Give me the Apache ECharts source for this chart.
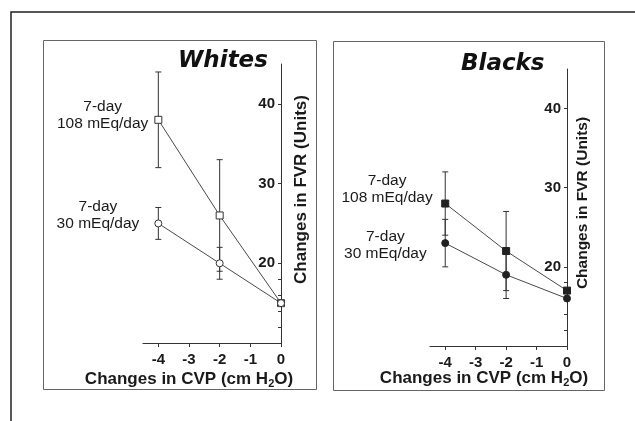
<!DOCTYPE html>
<html><head><meta charset="utf-8">
<script src="https://cdn.jsdelivr.net/npm/echarts@6/dist/echarts.min.js"></script>
<style>html,body{margin:0;padding:0;background:#fff}#c{width:635px;height:421px}</style>
</head><body><div id="c"></div>
<script>
// ---- data ----
const cvp = [-4, -2, 0];
const whites108 = [38, 26, 15];
const whites108Err = [6, 7, 0];
const whites30 = [25, 20, 15];
const whites30Err = [2, 2, 0];
const blacks108 = [28, 22, 17];
const blacks108Err = [4, 5, 0];
const blacks30 = [23, 19, 16];
const blacks30Err = [3, 3, 0];
const xTicks = [-4, -3, -2, -1, 0];
const yLabelTicks = [20, 30, 40];
const yMinorTicks = [12, 14, 16, 18];
const panelTitles = ['Whites', 'Blacks'];
const seriesLabels = ['7-day\n108 mEq/day', '7-day\n30 mEq/day'];
const xName = 'Changes in CVP (cm H{sub|2}O)';
const yName = 'Changes in FVR (Units)';

const INK = '#1a1a1a';
const LINE = '#4a4a4a';
const SANS = "'Liberation Sans', Arial, sans-serif";

function richLabel(text) {
  return text.split('\n').map(s => '{a|' + s + '}').join('\n');
}

function lineSeries(vals, g, symbol, filled, text, dist, dy) {
  return {
    type: 'line', xAxisIndex: g, yAxisIndex: g, z: 3,
    symbol: symbol, symbolSize: 7,
    lineStyle: { color: LINE, width: 1 },
    itemStyle: filled ? { color: '#222', borderColor: '#222', borderWidth: 1 }
                      : { color: '#fff', borderColor: '#333', borderWidth: 1 },
    emphasis: { disabled: true },
    data: cvp.map((x, i) => i === 0 ? {
      value: [x, vals[i]],
      label: {
        show: true, position: 'left', distance: dist, offset: [0, dy],
        formatter: richLabel(text),
        rich: { a: { align: 'center', fontFamily: SANS, fontSize: 15.5, lineHeight: 17, color: INK } }
      }
    } : [x, vals[i]])
  };
}

function errRender(params, api) {
  const x = api.value(0), lo = api.value(1), hi = api.value(2);
  if (hi === lo) return null;
  const p1 = api.coord([x, hi]), p2 = api.coord([x, lo]);
  const w = 3;
  const st = { stroke: '#333', lineWidth: 1 };
  return { type: 'group', children: [
    { type: 'line', shape: { x1: p1[0], y1: p1[1], x2: p2[0], y2: p2[1] }, style: st },
    { type: 'line', shape: { x1: p1[0] - w, y1: p1[1], x2: p1[0] + w, y2: p1[1] }, style: st },
    { type: 'line', shape: { x1: p2[0] - w, y1: p2[1], x2: p2[0] + w, y2: p2[1] }, style: st }
  ]};
}

function errSeries(vals, errs, g) {
  return {
    type: 'custom', xAxisIndex: g, yAxisIndex: g, z: 2,
    renderItem: errRender, silent: true,
    data: cvp.map((x, i) => [x, vals[i] - errs[i], vals[i] + errs[i]])
  };
}

function xAxis(g, padRight, gap) {
  return {
    type: 'value', gridIndex: g, min: -4.5, max: 0,
    axisLine: { lineStyle: { color: '#333', width: 1 } },
    axisTick: { customValues: xTicks, length: 4, lineStyle: { color: '#333' } },
    axisLabel: { customValues: xTicks, margin: 9, fontFamily: SANS, fontWeight: 'bold', fontSize: 15, color: INK },
    splitLine: { show: false },
    name: xName, nameLocation: 'middle', nameGap: gap, nameMoveOverlap: false,
    nameTextStyle: { fontFamily: SANS, fontWeight: 'bold', fontSize: 17, color: INK, padding: [0, padRight, 0, 0],
      rich: { sub: { fontFamily: SANS, fontWeight: 'bold', fontSize: 11, color: INK, padding: [8, 0, 0, 0] } } }
  };
}

function yAxis(g, nameSize, gap, padLeft) {
  return {
    type: 'value', gridIndex: g, min: 10, max: 45, position: 'right',
    axisLine: { onZero: false, lineStyle: { color: '#333', width: 1 } },
    axisTick: { inside: true, customValues: yMinorTicks.concat(yLabelTicks), length: 3, lineStyle: { color: '#333' } },
    axisLabel: { inside: true, customValues: yLabelTicks, margin: 6, fontFamily: SANS, fontWeight: 'bold', fontSize: 15, color: INK },
    splitLine: { show: false },
    name: yName, nameLocation: 'middle', nameGap: gap, nameMoveOverlap: false,
    nameTextStyle: { fontFamily: SANS, fontWeight: 'bold', fontSize: nameSize, color: INK, padding: [0, 0, 0, padLeft] }
  };
}

const chart = echarts.init(document.getElementById('c'), null, { renderer: 'canvas' });
chart.setOption({
  backgroundColor: '#fff',
  animation: false,
  title: [
    { text: panelTitles[0], left: 178, top: 50, padding: 0,
      textStyle: { fontFamily: "'DejaVu Sans', Verdana, sans-serif", fontStyle: 'italic', fontWeight: 'bold', fontSize: 23, color: '#111' } },
    { text: panelTitles[1], left: 461, top: 53, padding: 0,
      textStyle: { fontFamily: "'DejaVu Sans', Verdana, sans-serif", fontStyle: 'italic', fontWeight: 'bold', fontSize: 23, color: '#111' } }
  ],
  graphic: [
    { type: 'rect', shape: { x: 11, y: 12, width: 700, height: 500 }, style: { fill: 'none', stroke: '#222', lineWidth: 1.5 }, silent: true },
    { type: 'rect', shape: { x: 43.5, y: 40.5, width: 273, height: 349 }, style: { fill: 'none', stroke: '#666', lineWidth: 1 }, silent: true },
    { type: 'rect', shape: { x: 333.5, y: 41.5, width: 271, height: 349 }, style: { fill: 'none', stroke: '#666', lineWidth: 1 }, silent: true }
  ],
  grid: [
    { left: 143, right: 354, top: 64, bottom: 78 },
    { left: 430, right: 68, top: 69, bottom: 75 }
  ],
  xAxis: [xAxis(0, 46, 27), xAxis(1, 29, 23)],
  yAxis: [yAxis(0, 17, 12, 28), yAxis(1, 15.5, 8, 9)],
  series: [
    errSeries(whites108, whites108Err, 0),
    errSeries(whites30, whites30Err, 0),
    lineSeries(whites108, 0, 'rect', false, seriesLabels[0], 6, -5),
    lineSeries(whites30, 0, 'circle', false, seriesLabels[1], 15, -8),
    errSeries(blacks108, blacks108Err, 1),
    errSeries(blacks30, blacks30Err, 1),
    lineSeries(blacks108, 1, 'rect', true, seriesLabels[0], 8.5, -14),
    lineSeries(blacks30, 1, 'circle', true, seriesLabels[1], 14.5, 2)
  ]
});
</script></body></html>
